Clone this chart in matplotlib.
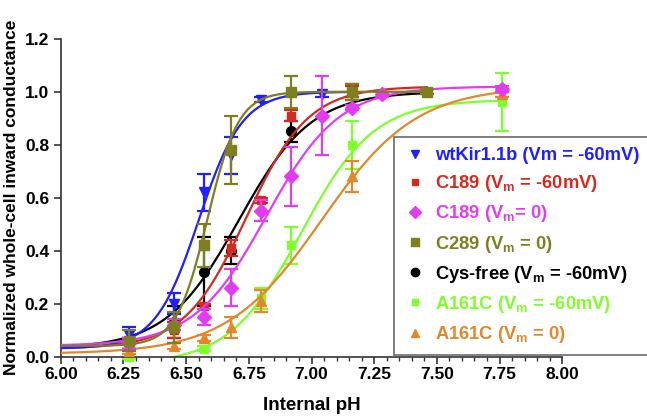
import matplotlib
matplotlib.use("Agg")
import matplotlib.pyplot as plt
import numpy as np
from matplotlib.lines import Line2D

plt.rcParams["font.family"] = ["Liberation Sans", "DejaVu Sans"]
plt.rcParams["font.weight"] = "bold"
plt.rcParams["mathtext.fontset"] = "custom"
plt.rcParams["mathtext.rm"] = "Liberation Sans:bold"
plt.rcParams["mathtext.it"] = "Liberation Sans:bold"
plt.rcParams["mathtext.bf"] = "Liberation Sans:bold"
plt.rcParams["mathtext.default"] = "regular"

# series: pH, normalized conductance, error
labels = [
    "wtKir1.1b (Vm = -60mV)",
    "C189 (V$_m$ = -60mV)",
    "C189 (V$_m$= 0)",
    "C289 (V$_m$ = 0)",
    "Cys-free (V$_m$ = -60mV)",
    "A161C (V$_m$ = -60mV)",
    "A161C (V$_m$ = 0)",
]
colors = ["#1f1fff", "#d42a1f", "#e23cf2", "#7f7f1f", "#000000", "#7dff2a", "#e4862a"]
markers = ["v", "s", "D", "s", "o", "s", "^"]

ph_wt = [6.27, 6.45, 6.57, 6.68, 6.80, 7.04]
g_wt = [0.08, 0.20, 0.62, 0.76, 0.97, 0.99]
e_wt = [0.03, 0.04, 0.07, 0.07, 0.01, 0.01]

ph_c189 = [6.27, 6.45, 6.57, 6.68, 6.80, 6.92, 7.16]
g_c189 = [0.05, 0.10, 0.19, 0.41, 0.59, 0.91, 1.00]
e_c189 = [0.02, 0.03, 0.01, 0.03, 0.01, 0.02, 0.02]

ph_c189_0 = [6.27, 6.45, 6.57, 6.68, 6.80, 6.92, 7.04, 7.16, 7.28, 7.76]
g_c189_0 = [0.05, 0.12, 0.15, 0.26, 0.55, 0.68, 0.91, 0.94, 0.99, 1.01]
e_c189_0 = [0.02, 0.02, 0.03, 0.07, 0.04, 0.11, 0.15, 0.01, 0.01, 0.01]

ph_c289 = [6.27, 6.45, 6.57, 6.68, 6.92, 7.16, 7.46]
g_c289 = [0.06, 0.11, 0.42, 0.78, 1.00, 1.00, 1.00]
e_c289 = [0.04, 0.06, 0.08, 0.13, 0.06, 0.03, 0.01]

ph_cf = [6.27, 6.45, 6.57, 6.68, 6.92, 7.16]
g_cf = [0.05, 0.13, 0.32, 0.40, 0.85, 1.00]
e_cf = [0.02, 0.06, 0.13, 0.05, 0.04, 0.03]

ph_a161 = [6.27, 6.57, 6.80, 6.92, 7.16, 7.76]
g_a161 = [0.00, 0.03, 0.22, 0.42, 0.80, 0.96]
e_a161 = [0.01, 0.01, 0.04, 0.07, 0.09, 0.11]

ph_a161_0 = [6.27, 6.45, 6.57, 6.68, 6.80, 7.16, 7.76]
g_a161_0 = [0.02, 0.04, 0.07, 0.11, 0.21, 0.68, 0.99]
e_a161_0 = [0.01, 0.01, 0.01, 0.04, 0.04, 0.06, 0.01]

# Hill fit parameters
fit_pka = [6.55, 6.74, 6.82, 6.585, 6.71, 6.96, 7.04]
fit_n = [5.0, 3.5, 3.0, 7.0, 3.0, 3.0, 2.3]
fit_bottom = [0.03, 0.03, 0.04, 0.04, 0.03, -0.03, 0.01]
fit_top = [1.0, 1.02, 1.02, 1.0, 1.0, 0.97, 1.02]
fit_start = [6.0, 6.0, 6.0, 6.0, 6.0, 6.32, 6.0]
fit_end = [7.16, 7.46, 7.76, 7.46, 7.46, 7.76, 7.76]

series = [
    (ph_wt, g_wt, e_wt),
    (ph_c189, g_c189, e_c189),
    (ph_c189_0, g_c189_0, e_c189_0),
    (ph_c289, g_c289, e_c289),
    (ph_cf, g_cf, e_cf),
    (ph_a161, g_a161, e_a161),
    (ph_a161_0, g_a161_0, e_a161_0),
]
draw_order = [5, 6, 4, 1, 0, 2, 3]
msizes = [7, 6, 7, 7, 7, 6, 7]

fig = plt.figure(figsize=(6.47, 4.17), dpi=100)
ax = fig.add_axes([0.094, 0.145, 0.775, 0.762])

for z, i in enumerate(draw_order):
    ph, g, e = series[i]
    x = np.linspace(fit_start[i], fit_end[i], 300)
    y = fit_bottom[i] + (fit_top[i] - fit_bottom[i]) / (1 + 10 ** (fit_n[i] * (fit_pka[i] - x)))
    ax.plot(x, y, color=colors[i], lw=1.6, zorder=2 + z)
    ax.errorbar(ph, g, yerr=e, fmt=markers[i], color=colors[i], ms=msizes[i],
                capsize=5, elinewidth=1.6, capthick=1.6, zorder=2 + z, clip_on=False)

ax.set_xlim(6.0, 8.0)
ax.set_ylim(0.0, 1.2)
ax.set_xticks(np.arange(6.0, 8.01, 0.25))
ax.set_xticks(np.arange(6.0, 8.01, 0.05), minor=True)
ax.set_xticklabels([f"{v:.2f}" for v in np.arange(6.0, 8.01, 0.25)])
ax.set_yticks(np.arange(0, 1.21, 0.2))
ax.set_yticklabels([f"{v:.1f}" for v in np.arange(0, 1.21, 0.2)])
ax.spines["top"].set_visible(False)
ax.spines["right"].set_visible(False)
for s in ("left", "bottom"):
    ax.spines[s].set_linewidth(1.2)
    ax.spines[s].set_color("#333333")
ax.tick_params(which="major", length=5, width=1.2, labelsize=12.5, color="#333333")
ax.tick_params(axis="x", which="major", pad=2.5)
ax.tick_params(which="minor", length=3, width=1.0, color="#333333")
ax.set_xlabel("Internal pH", fontsize=13.5, fontweight="bold", labelpad=11)
ax.set_ylabel("Normalized whole-cell inward conductance", fontsize=12.5, fontweight="bold", labelpad=4)

handles = [Line2D([], [], ls="none", marker=markers[i], color=colors[i], ms=msizes[i] - 1)
           for i in range(len(labels))]
leg = ax.legend(handles, labels, loc="upper left", bbox_to_anchor=(394 / 647, 0.6715),
                bbox_transform=fig.transFigure, fontsize=13.2, frameon=True, fancybox=False,
                edgecolor="#444444", handletextpad=0.5, labelspacing=0.5, borderpad=0.55,
                handlelength=1.2, borderaxespad=0)
leg.get_frame().set_linewidth(1.2)
leg.set_zorder(20)
for t, c in zip(leg.get_texts(), colors):
    t.set_color(c)
    t.set_fontweight("bold")

fig.savefig("out.png", dpi=100)
